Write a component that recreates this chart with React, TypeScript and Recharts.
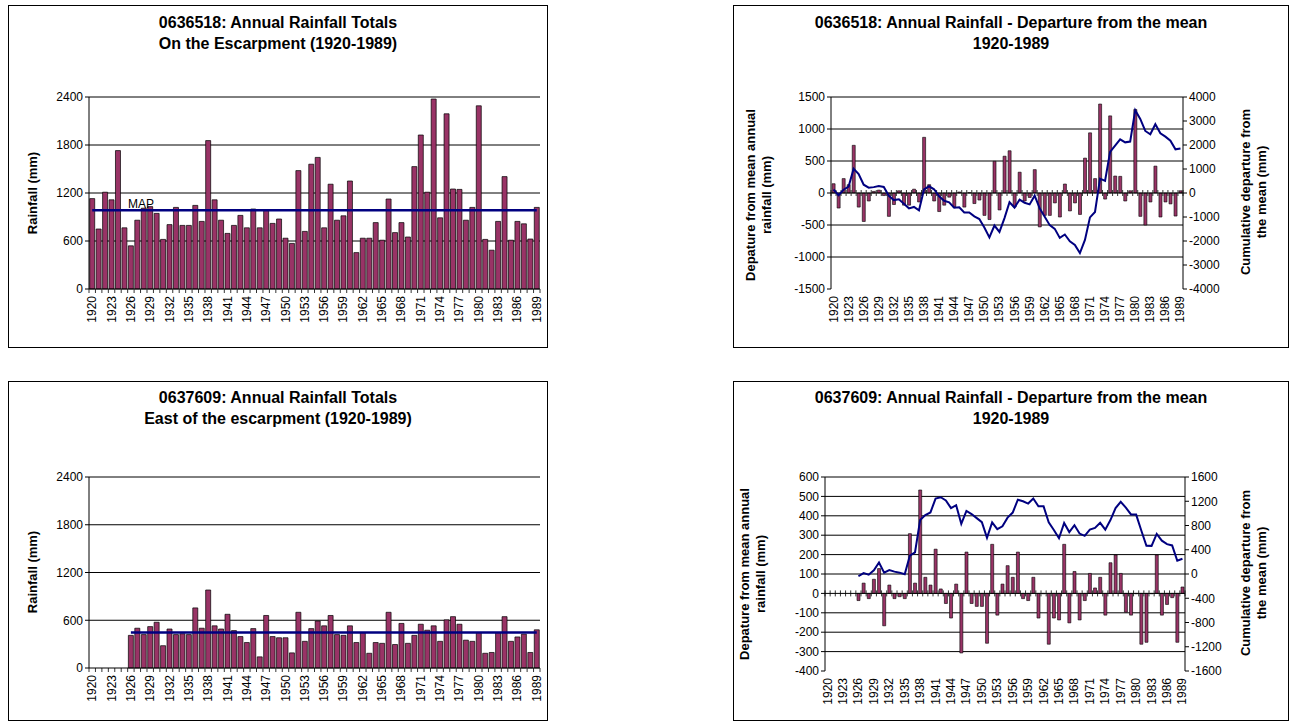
import { ComposedChart, Bar, Line, XAxis, YAxis, CartesianGrid, ReferenceLine } from 'recharts';

const FONT = '"Liberation Sans", Arial, Helvetica, sans-serif';
const PLUM = '#993366';
const NAVY = '#000080';

const YEARS = [
  1920, 1921, 1922, 1923, 1924, 1925, 1926, 1927, 1928, 1929,
  1930, 1931, 1932, 1933, 1934, 1935, 1936, 1937, 1938, 1939,
  1940, 1941, 1942, 1943, 1944, 1945, 1946, 1947, 1948, 1949,
  1950, 1951, 1952, 1953, 1954, 1955, 1956, 1957, 1958, 1959,
  1960, 1961, 1962, 1963, 1964, 1965, 1966, 1967, 1968, 1969,
  1970, 1971, 1972, 1973, 1974, 1975, 1976, 1977, 1978, 1979,
  1980, 1981, 1982, 1983, 1984, 1985, 1986, 1987, 1988, 1989,
];

// station 0636518, on the escarpment
const ESCARPMENT_MAP = 985;
const ESCARPMENT_RAIN = [
  1130, 750, 1210, 1115, 1730, 765, 540, 860, 1010, 1030,
  945, 620, 805, 1020, 795, 795, 1045, 845, 1855, 1115,
  860, 695, 795, 920, 765, 1000, 765, 990, 820, 875,
  635, 570, 1480, 720, 1560, 1645, 765, 1310, 860, 915,
  1350, 455, 635, 635, 830, 610, 1125, 705, 830, 650,
  1530, 1925, 1210, 2375, 890, 2190, 1250, 1245, 860, 1020,
  2290, 620, 485, 845, 1405, 610, 845, 815, 625, 1020,
];
const ESCARPMENT_DEPARTURE = [
  145, -235, 225, 130, 745, -220, -445, -125, 25, 45,
  -40, -365, -180, 35, -190, -190, 60, -140, 870, 130,
  -125, -290, -190, -65, -220, 15, -220, 5, -165, -110,
  -350, -415, 495, -265, 575, 660, -220, 325, -125, -70,
  365, -530, -350, -350, -155, -375, 140, -280, -155, -335,
  545, 940, 225, 1390, -95, 1205, 265, 260, -125, 35,
  1305, -365, -500, -140, 420, -375, -140, -170, -360, 35,
];
const ESCARPMENT_CUMULATIVE = [
  145, -90, 135, 265, 1010, 790, 345, 220, 245, 290,
  250, -115, -295, -260, -450, -640, -580, -720, 150, 280,
  155, -135, -325, -390, -610, -595, -815, -810, -975, -1085,
  -1435, -1850, -1355, -1620, -1045, -385, -605, -280, -405, -475,
  -110, -640, -990, -1340, -1495, -1870, -1730, -2010, -2165, -2500,
  -1955, -1015, -790, 600, 505, 1710, 1975, 2235, 2110, 2145,
  3450, 3085, 2585, 2445, 2865, 2490, 2350, 2180, 1820, 1855,
];

// station 0637609, east of the escarpment (record starts 1926)
const EAST_MAP = 447;
const EAST_RAIN = [
  null, null, null, null, null, null, 410, 500, 420, 520,
  575, 280, 490, 420, 430, 420, 755, 500, 980, 530,
  490, 675, 470, 395, 320, 495, 140, 660, 395, 380,
  380, 190, 700, 335, 495, 590, 530, 660, 420, 410,
  530, 320, 445, 185, 320, 310, 700, 295, 560, 310,
  410, 550, 475, 530, 335, 605, 645, 550, 350, 335,
  445, 185, 195, 445, 645, 335, 390, 425, 195, 480,
];
const EAST_DEPARTURE = [
  null, null, null, null, null, null, -37, 53, -27, 73,
  128, -167, 43, -27, -17, -27, 308, 53, 533, 83,
  43, 228, 23, -52, -127, 48, -307, 213, -52, -67,
  -67, -257, 253, -112, 48, 143, 83, 213, -27, -37,
  83, -127, -2, -262, -127, -137, 253, -152, 113, -137,
  -37, 103, 28, 83, -112, 158, 198, 103, -97, -112,
  -2, -262, -252, -2, 198, -112, -57, -22, -252, 33,
];
const EAST_CUMULATIVE = [
  null, null, null, null, null, null, -37, 16, -11, 62,
  190, 23, 66, 39, 22, -5, 303, 356, 889, 972,
  1015, 1243, 1266, 1214, 1087, 1135, 828, 1041, 989, 922,
  855, 598, 851, 739, 787, 930, 1013, 1226, 1199, 1162,
  1245, 1118, 1116, 854, 727, 590, 843, 691, 804, 667,
  630, 733, 761, 844, 732, 890, 1088, 1191, 1094, 982,
  980, 718, 466, 464, 662, 550, 493, 471, 219, 252,
];

const TOTAL_TICKS = [0, 600, 1200, 1800, 2400];
const ESC_DEP_TICKS = [-1500, -1000, -500, 0, 500, 1000, 1500];
const ESC_CUM_TICKS = [-4000, -3000, -2000, -1000, 0, 1000, 2000, 3000, 4000];
const EAST_DEP_TICKS = [-400, -300, -200, -100, 0, 100, 200, 300, 400, 500, 600];
const EAST_CUM_TICKS = [-1600, -1200, -800, -400, 0, 400, 800, 1200, 1600];

const escarpmentRows = YEARS.map((year, i) => ({
  year,
  rain: ESCARPMENT_RAIN[i],
  map: ESCARPMENT_MAP,
  dep: ESCARPMENT_DEPARTURE[i],
  cum: ESCARPMENT_CUMULATIVE[i],
}));

const eastRows = YEARS.map((year, i) => ({
  year,
  rain: EAST_RAIN[i],
  map: EAST_RAIN[i] == null ? null : EAST_MAP,
  dep: EAST_DEPARTURE[i],
  cum: EAST_CUMULATIVE[i],
}));

const tickFont = { fontSize: 12, fill: '#000', fontFamily: FONT };

const YearTick = ({ x, y, payload }: any) => (
  <text
    x={x}
    y={y}
    transform={`rotate(-90, ${x}, ${y})`}
    textAnchor="end"
    dominantBaseline="central"
    fontSize={12}
    fontFamily={FONT}
    fill="#000"
  >
    {payload.value}
  </text>
);

// category axis drawn along the zero line, with a tick between every category
const zeroAxis = (count: number, up: number, down: number) => (p: any) => {
  const { x1, x2, y1 } = p;
  const step = (x2 - x1) / count;
  const marks = [];
  for (let i = 0; i <= count; i++) {
    const x = x1 + i * step;
    marks.push(<line key={i} x1={x} x2={x} y1={y1 - up} y2={y1 + down} stroke="#000" strokeWidth={0.8} />);
  }
  return (
    <g>
      <line x1={x1} x2={x2} y1={y1} y2={y1} stroke="#000" strokeWidth={1} />
      {marks}
    </g>
  );
};

const Frame = ({ left, top, width, height }: any) => (
  <div style={{ position: 'absolute', left, top, width, height, border: '1px solid #000', boxSizing: 'border-box' }} />
);

const Title = ({ left, top, width, lines }: any) => (
  <div
    style={{
      position: 'absolute', left, top, width, textAlign: 'center',
      fontFamily: FONT, fontWeight: 'bold', fontSize: 16, lineHeight: '21px', color: '#000',
    }}
  >
    {lines.map((l: string) => <div key={l}>{l}</div>)}
  </div>
);

const AxisTitle = ({ cx, cy, lines, size = 13 }: any) => (
  <div
    style={{
      position: 'absolute', left: cx, top: cy, transform: 'translate(-50%, -50%) rotate(-90deg)',
      whiteSpace: 'nowrap', textAlign: 'center', fontFamily: FONT, fontWeight: 'bold',
      fontSize: size, lineHeight: '16px', color: '#000',
    }}
  >
    {lines.map((l: string) => <div key={l}>{l}</div>)}
  </div>
);

function TotalsChart({ left, top, height, rows, margin }: any) {
  return (
    <div style={{ position: 'absolute', left, top }}>
      <ComposedChart width={540} height={height} data={rows} margin={margin} barCategoryGap="11%">
        <CartesianGrid vertical={false} horizontalValues={[600, 1200, 1800, 2400]} stroke="#000" />
        <XAxis
          dataKey="year"
          interval={2}
          axisLine={false}
          tickLine={false}
          tickSize={5}
          tickMargin={2}
          height={40}
          tick={<YearTick />}
        />
        <YAxis
          domain={[0, 2400]}
          ticks={TOTAL_TICKS}
          interval={0}
          width={45}
          axisLine={{ stroke: '#000' }}
          tickLine={{ stroke: '#000' }}
          tickSize={4}
          tick={tickFont}
        />
        <Bar dataKey="rain" fill={PLUM} stroke="#000" strokeWidth={0.7} isAnimationActive={false} />
        <Line dataKey="map" stroke={NAVY} strokeWidth={2.5} dot={false} activeDot={false} isAnimationActive={false} />
        <ReferenceLine y={0} shape={zeroAxis(YEARS.length, 0, 4)} />
      </ComposedChart>
    </div>
  );
}

function DepartureChart({ left, top, height, rows, margin, leftWidth, depTicks, cumTicks, grid }: any) {
  return (
    <div style={{ position: 'absolute', left, top }}>
      <ComposedChart width={556} height={height} data={rows} margin={margin} barCategoryGap="22%">
        <CartesianGrid yAxisId="left" vertical={false} horizontalValues={grid} stroke="#000" />
        <XAxis
          dataKey="year"
          interval={2}
          axisLine={false}
          tickLine={false}
          tickSize={5}
          tickMargin={2}
          height={40}
          tick={<YearTick />}
        />
        <YAxis
          yAxisId="left"
          domain={[depTicks[0], depTicks[depTicks.length - 1]]}
          ticks={depTicks}
          interval={0}
          width={leftWidth}
          axisLine={{ stroke: '#000' }}
          tickLine={{ stroke: '#000' }}
          tickSize={4}
          tick={tickFont}
        />
        <YAxis
          yAxisId="right"
          orientation="right"
          domain={[cumTicks[0], cumTicks[cumTicks.length - 1]]}
          ticks={cumTicks}
          interval={0}
          width={45}
          axisLine={{ stroke: '#000' }}
          tickLine={{ stroke: '#000' }}
          tickSize={4}
          tick={tickFont}
        />
        <Bar yAxisId="left" dataKey="dep" fill={PLUM} stroke="#000" strokeWidth={0.6} isAnimationActive={false} />
        <ReferenceLine yAxisId="left" y={0} shape={zeroAxis(YEARS.length, 3, 3)} />
        <Line
          yAxisId="right"
          dataKey="cum"
          stroke={NAVY}
          strokeWidth={2}
          dot={false}
          activeDot={false}
          isAnimationActive={false}
        />
      </ComposedChart>
    </div>
  );
}

export default function App() {
  return (
    <div style={{ position: 'absolute', left: 0, top: 0, width: 1296, height: 727, background: '#fff', fontFamily: FONT }}>
      <Frame left={8} top={5} width={540} height={343} />
      <Frame left={733} top={5} width={556} height={343} />
      <Frame left={8} top={381} width={540} height={340} />
      <Frame left={733} top={381} width={556} height={340} />

      <TotalsChart
        left={8}
        top={5}
        height={342}
        rows={escarpmentRows}
        margin={{ top: 92, right: 8, bottom: 18, left: 36 }}
      />
      <TotalsChart
        left={8}
        top={381}
        height={340}
        rows={eastRows}
        margin={{ top: 96, right: 8, bottom: 13, left: 36 }}
      />
      <DepartureChart
        left={733}
        top={5}
        height={342}
        rows={escarpmentRows}
        margin={{ top: 92, right: 61, bottom: 18, left: 53 }}
        leftWidth={45}
        depTicks={ESC_DEP_TICKS}
        cumTicks={ESC_CUM_TICKS}
        grid={[-1000, -500, 500, 1000, 1500]}
      />
      <DepartureChart
        left={733}
        top={381}
        height={340}
        rows={eastRows}
        margin={{ top: 96, right: 59, bottom: 10, left: 52 }}
        leftWidth={40}
        depTicks={EAST_DEP_TICKS}
        cumTicks={EAST_CUM_TICKS}
        grid={[-300, -200, -100, 100, 200, 300, 400, 500, 600]}
      />

      <Title left={8} top={12} width={540} lines={['0636518: Annual Rainfall Totals', 'On the Escarpment (1920-1989)']} />
      <Title left={733} top={12} width={556} lines={['0636518: Annual Rainfall - Departure from the mean', '1920-1989']} />
      <Title left={8} top={387} width={540} lines={['0637609: Annual Rainfall Totals', 'East of the escarpment (1920-1989)']} />
      <Title left={733} top={387} width={556} lines={['0637609: Annual Rainfall - Departure from the mean', '1920-1989']} />

      <AxisTitle cx={33} cy={193} lines={['Rainfall (mm)']} />
      <AxisTitle cx={33} cy={572} lines={['Rainfall (mm)']} />
      <AxisTitle cx={759} cy={195} lines={['Depature from mean annual', 'rainfall (mm)']} />
      <AxisTitle cx={1254} cy={192} lines={['Cumulative departure from', 'the mean (mm)']} />
      <AxisTitle cx={753} cy={574} lines={['Depature from mean annual', 'rainfall (mm)']} />
      <AxisTitle cx={1254} cy={573} lines={['Cumulative departure from', 'the mean (mm)']} />

      <div style={{ position: 'absolute', left: 128, top: 197, fontFamily: FONT, fontSize: 12, color: '#000' }}>MAP</div>
    </div>
  );
}
